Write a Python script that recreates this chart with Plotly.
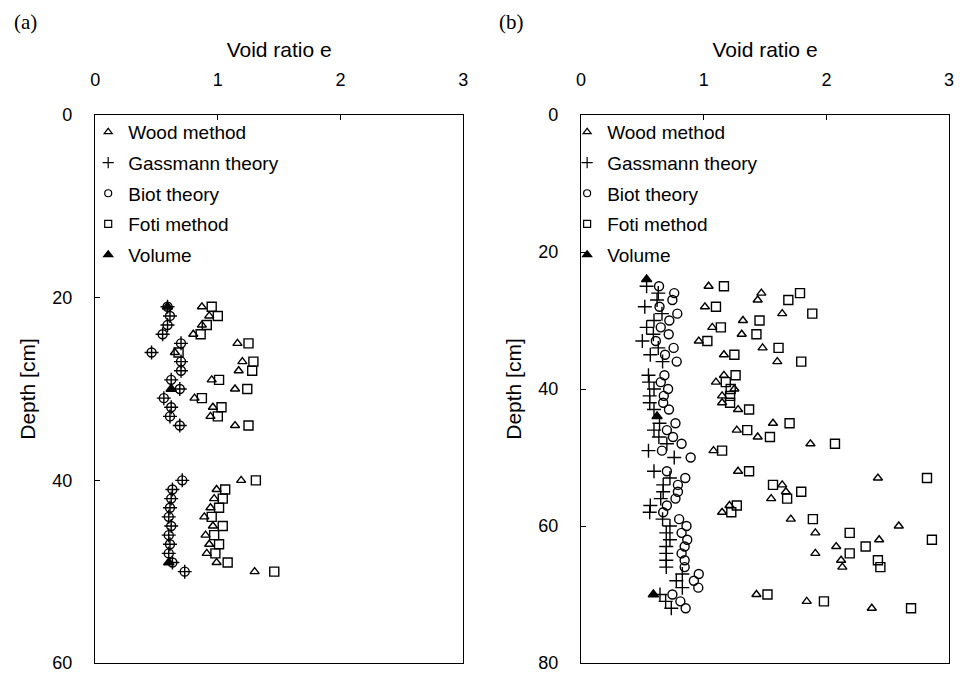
import plotly.graph_objects as go

# ---------------- Panel (a) data ----------------
depth_a = [21, 22, 23, 24, 25, 26, 27, 28, 29, 30, 31, 32, 33, 34,
           40, 41, 42, 43, 44, 45, 46, 47, 48, 49, 50]
wood_a = [0.87, 0.93, 0.87, 0.80, 1.16, 0.65, 1.20, 1.17, 0.95, 1.14, 0.81, 0.96, 0.94, 1.14,
          1.19, 0.99, 0.97, 0.94, 0.89, 0.96, 0.90, 0.93, 0.91, 0.99, 1.30]
foti_a = [0.95, 1.00, 0.91, 0.86, 1.25, 0.68, 1.29, 1.28, 1.01, 1.24, 0.87, 1.03, 1.00, 1.25,
          1.31, 1.06, 1.04, 1.01, 0.95, 1.04, 0.97, 1.01, 0.98, 1.08, 1.46]
gassmann_a = [0.59, 0.61, 0.59, 0.55, 0.70, 0.46, 0.70, 0.70, 0.62, 0.69, 0.56, 0.62, 0.61, 0.69,
              0.71, 0.63, 0.62, 0.61, 0.60, 0.62, 0.60, 0.61, 0.60, 0.63, 0.73]
biot_a = [0.59, 0.61, 0.59, 0.55, 0.70, 0.46, 0.70, 0.70, 0.62, 0.69, 0.56, 0.62, 0.61, 0.69,
          0.71, 0.63, 0.62, 0.61, 0.60, 0.62, 0.60, 0.61, 0.60, 0.63, 0.73]
vol_depth_a = [21, 30, 49]
vol_a = [0.59, 0.62, 0.60]

# ---------------- Panel (b) data ----------------
depth_b_wf = [25, 26, 27, 28, 29, 30, 31, 32, 33, 34, 35, 36, 38, 39, 40, 41, 42, 43,
              45, 46, 47, 48, 49, 52, 53, 54, 55, 56, 57, 58, 59, 60, 61, 62, 63, 64,
              65, 66, 70, 71, 72]
wood_b = [1.04, 1.47, 1.44, 1.01, 1.64, 1.32, 1.07, 1.31, 0.96, 1.48, 1.165, 1.60, 1.165, 1.10,
          1.25, 1.15, 1.15, 1.28, 1.565, 1.27, 1.44, 1.87, 1.08, 1.28, 2.42, 1.64, 1.67, 1.55,
          1.21, 1.15, 1.71, 2.59, 1.91, 2.43, 2.08, 1.91, 2.12, 2.13, 1.43, 1.84, 2.37]
foti_b = [1.165, 1.785, 1.69, 1.10, 1.885, 1.455, 1.14, 1.43, 1.03, 1.61, 1.25, 1.795, 1.26, 1.18,
          1.22, 1.215, 1.215, 1.37, 1.70, 1.355, 1.54, 2.07, 1.15, 1.37, 2.82, 1.565, 1.795, 1.68,
          1.27, 1.225, 1.89, None, 2.19, 2.86, 2.32, 2.19, 2.42, 2.44, 1.52, 1.98, 2.69]
depth_b_gb = [25, 26, 27, 28, 29, 30, 31, 32, 33, 34, 35, 36, 38, 39, 40, 41, 42, 43,
              45, 46, 47, 48, 49, 50, 52, 53, 54, 55, 56, 57, 58, 59, 60, 61, 62, 63, 64,
              65, 66, 67, 68, 69, 70, 71, 72]
gassmann_b = [0.535, 0.63, 0.62, 0.52, 0.66, 0.595, 0.535, 0.59, 0.50, 0.63, 0.565, 0.665,
              0.55, 0.555, 0.595, 0.56, 0.56, 0.595, 0.64, 0.595, 0.635, 0.70, 0.55, 0.76,
              0.595, 0.725, 0.67, 0.67, 0.65, 0.565, 0.56, 0.665, 0.725, 0.695, 0.725, 0.695,
              0.695, 0.695, 0.695, 0.826, 0.777, 0.826, 0.644, 0.69, 0.736]
biot_b = [0.636, 0.76, 0.745, 0.64, 0.785, 0.72, 0.65, 0.715, 0.61, 0.755, 0.685, 0.78,
          0.68, 0.65, 0.71, 0.675, 0.67, 0.717, 0.77, 0.70, 0.75, 0.82, 0.66, 0.894,
          0.70, 0.85, 0.79, 0.79, 0.77, 0.70, 0.67, 0.80, 0.86, 0.82, 0.866, 0.845,
          0.82, 0.845, 0.845, 0.96, 0.92, 0.956, 0.745, 0.81, 0.853]
vol_depth_b = [24, 44, 70]
vol_b = [0.535, 0.62, 0.59]

series_names = ["Wood method", "Gassmann theory", "Biot theory", "Foti method", "Volume"]
symbols = ["triangle-up-open", "cross-thin-open", "circle-open", "square-open", "triangle-up"]
data_sizes = [8, 10, 9, 9, 9]
legend_sizes = [7, 8, 7, 7, 8]

BLACK = "#000000"
FONT = "Liberation Sans, Arial, sans-serif"
SERIF = "Liberation Serif, DejaVu Serif, serif"

fig = go.Figure()

panels = [
    ("x", "y", "legend",
     [(wood_a, depth_a), (gassmann_a, depth_a), (biot_a, depth_a), (foti_a, depth_a), (vol_a, vol_depth_a)]),
    ("x2", "y2", "legend2",
     [(wood_b, depth_b_wf), (gassmann_b, depth_b_gb), (biot_b, depth_b_gb), (foti_b, depth_b_wf), (vol_b, vol_depth_b)]),
]

for xa, ya, lg, sets in panels:
    for i, (vals, deps) in enumerate(sets):
        fig.add_trace(go.Scatter(
            x=vals, y=deps, mode="markers", xaxis=xa, yaxis=ya, showlegend=False,
            marker=dict(symbol=symbols[i], size=data_sizes[i], color=BLACK,
                        line=dict(color=BLACK, width=1.4)),
            hoverinfo="skip"))
    for i, name in enumerate(series_names):
        fig.add_trace(go.Scatter(
            x=[None], y=[None], mode="markers", xaxis=xa, yaxis=ya, name=name,
            legend=lg, legendgroup=lg + name, showlegend=True,
            marker=dict(symbol=symbols[i], size=legend_sizes[i], color=BLACK,
                        line=dict(color=BLACK, width=1.2))))

# The page body has an 8px margin, so the figure is drawn 8px smaller and all
# page-pixel targets are shifted by that offset.
OFF = 8
W, H = 962 - OFF, 674 - OFF
MT = 115 - OFF
MB = H - (663 - OFF)

def px_x(p):
    return (p - OFF) / W

def px_y(p):
    return (H - MB - (p - OFF)) / (H - MT - MB)

axis_common = dict(showline=True, mirror=True, linecolor=BLACK, linewidth=1.3,
                   showgrid=False, zeroline=False, ticks="inside", ticklen=5,
                   tickcolor=BLACK, tickfont=dict(family=FONT, size=18, color=BLACK))

xticks = [0, 1, 2, 3]
title_font = dict(family=FONT, size=21, color=BLACK)
legend_common = dict(xanchor="left", yanchor="top", bgcolor="rgba(0,0,0,0)",
                     borderwidth=0, tracegroupgap=3,
                     font=dict(family=FONT, size=19, color=BLACK),
                     itemclick=False, itemdoubleclick=False)

fig.update_layout(
    width=W, height=H, margin=dict(l=0, r=0, t=MT, b=MB),
    paper_bgcolor="white", plot_bgcolor="white",
    font=dict(family=FONT, size=18, color=BLACK),
    xaxis=dict(domain=[px_x(91), px_x(463)], anchor="y", side="top", range=[0, 3],
               tickvals=xticks, ticklabelstandoff=21,
               title=dict(text="Void ratio e", font=title_font, standoff=6),
               **axis_common),
    yaxis=dict(domain=[0, 1], anchor="x", range=[60, 0], tickvals=[0, 20, 40, 60],
               ticklabelstandoff=18,
               title=dict(text="Depth [cm]", font=title_font, standoff=10),
               **axis_common),
    xaxis2=dict(domain=[px_x(582), px_x(954)], anchor="y2", side="top", range=[0, 3],
                tickvals=xticks, ticklabelstandoff=21,
                title=dict(text="Void ratio e", font=title_font, standoff=6),
                **axis_common),
    yaxis2=dict(domain=[0, 1], anchor="x2", range=[80, 0], tickvals=[0, 20, 40, 60, 80],
                ticklabelstandoff=18,
                title=dict(text="Depth [cm]", font=title_font, standoff=10),
                **axis_common),
    legend=dict(x=px_x(84), y=px_y(113), **legend_common),
    legend2=dict(x=px_x(568), y=px_y(113), **legend_common),
    annotations=[
        dict(text="(a)", x=px_x(7), y=px_y(22), xref="paper", yref="paper",
             xanchor="left", yanchor="middle", showarrow=False,
             font=dict(family=SERIF, size=21, color=BLACK)),
        dict(text="(b)", x=px_x(497), y=px_y(22), xref="paper", yref="paper",
             xanchor="left", yanchor="middle", showarrow=False,
             font=dict(family=SERIF, size=21, color=BLACK)),
    ],
)

fig.write_html("out.html")
